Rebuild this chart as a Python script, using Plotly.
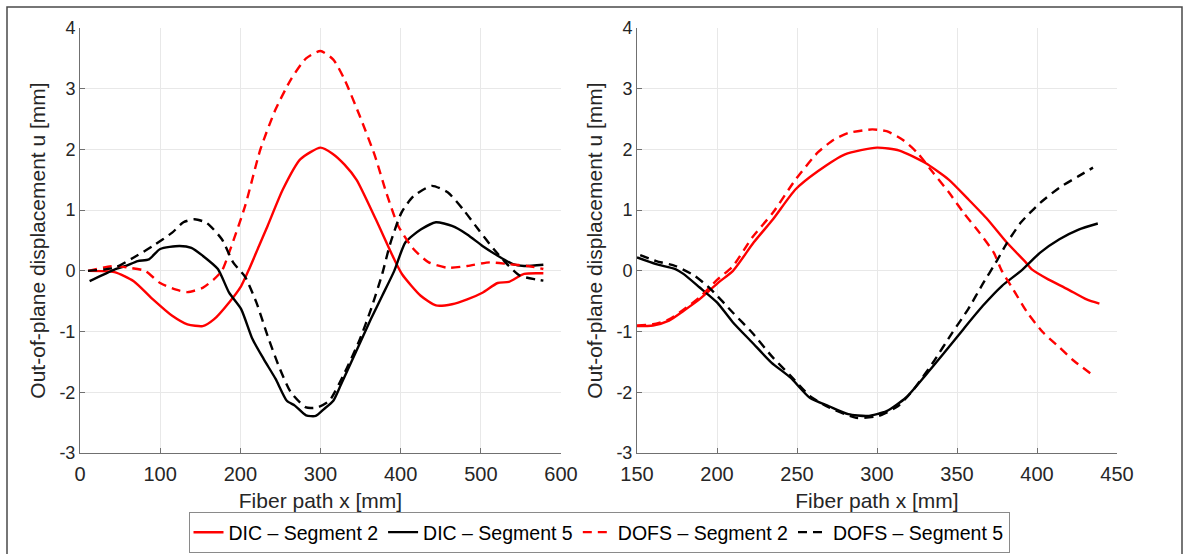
import plotly.graph_objects as go

W, H = 1183, 554

# ---------------- data (left panel) ----------------
L_dic2_x = [10, 43, 67, 91, 115, 134, 153, 167, 186, 201, 210, 223, 234, 253, 275, 300, 315, 330, 345, 369, 392, 402, 425, 444, 464, 483, 502, 521, 535, 554, 578]
L_dic2_y = [0, -0.02, -0.17, -0.47, -0.74, -0.88, -0.91, -0.8, -0.52, -0.25, 0.0, 0.4, 0.74, 1.34, 1.84, 2.03, 1.93, 1.75, 1.5, 0.85, 0.19, -0.06, -0.41, -0.57, -0.55, -0.47, -0.36, -0.2, -0.18, -0.05, -0.04]

L_dic5_x = [12, 43, 57, 72, 86, 100, 124, 139, 153, 172, 186, 201, 215, 229, 244, 258, 268, 282, 294, 304, 316, 325, 344, 363, 377, 392, 406, 425, 444, 464, 483, 502, 521, 540, 554, 578]
L_dic5_y = [-0.17, 0.02, 0.08, 0.16, 0.19, 0.36, 0.41, 0.38, 0.25, 0.03, -0.36, -0.63, -1.12, -1.45, -1.78, -2.14, -2.22, -2.38, -2.39, -2.28, -2.14, -1.89, -1.34, -0.79, -0.41, 0.0, 0.47, 0.68, 0.8, 0.74, 0.6, 0.41, 0.25, 0.11, 0.08, 0.1]

L_dofs2_x = [10, 43, 62, 81, 100, 120, 134, 153, 167, 177, 186, 206, 225, 244, 263, 282, 300, 316, 330, 349, 368, 382, 397, 416, 435, 459, 483, 511, 535, 559, 578]
L_dofs2_y = [0, 0.08, 0.05, 0.0, -0.2, -0.31, -0.35, -0.28, -0.14, 0.0, 0.3, 1.07, 2.0, 2.66, 3.15, 3.5, 3.62, 3.48, 3.15, 2.55, 1.89, 1.29, 0.74, 0.36, 0.14, 0.05, 0.08, 0.14, 0.11, 0.08, 0.03]

L_dofs5_x = [10, 43, 67, 91, 115, 129, 143, 158, 177, 191, 206, 220, 234, 248, 263, 282, 296, 311, 330, 349, 363, 377, 387, 401, 416, 439, 459, 478, 497, 516, 535, 549, 568, 578]
L_dofs5_y = [0, 0.05, 0.22, 0.41, 0.63, 0.8, 0.85, 0.79, 0.52, 0.14, -0.1, -0.52, -1.07, -1.57, -2.0, -2.25, -2.25, -2.14, -1.68, -1.13, -0.63, -0.05, 0.45, 0.96, 1.23, 1.4, 1.29, 1.01, 0.68, 0.36, 0.08, -0.08, -0.14, -0.16]

# ---------------- data (right panel) ----------------
R_dic2_x = [150, 160, 170, 179, 189, 201, 210, 223, 235, 249, 263, 280, 300, 314, 330, 345, 357, 369, 381, 393, 397, 407, 419, 431, 439]
R_dic2_y = [-0.91, -0.9, -0.82, -0.66, -0.47, -0.19, 0.0, 0.47, 0.85, 1.34, 1.64, 1.92, 2.03, 1.98, 1.78, 1.5, 1.18, 0.85, 0.47, 0.14, 0.02, -0.14, -0.3, -0.47, -0.54]

R_dofs2_x = [150, 160, 170, 179, 189, 200, 210, 222, 235, 249, 263, 273, 282, 297, 306, 316, 325, 335, 345, 354, 364, 373, 378, 385, 394, 404, 414, 423, 435]
R_dofs2_y = [-0.9, -0.88, -0.8, -0.64, -0.44, -0.15, 0.08, 0.55, 0.96, 1.5, 1.95, 2.16, 2.27, 2.33, 2.3, 2.16, 1.95, 1.62, 1.29, 0.96, 0.63, 0.3, 0.0, -0.3, -0.69, -1.02, -1.26, -1.48, -1.72]

R_dic5_x = [150, 162, 174, 179, 189, 200, 210, 222, 234, 246, 258, 270, 282, 294, 306, 318, 330, 342, 354, 366, 378, 390, 402, 414, 426, 438]
R_dic5_y = [0.22, 0.11, 0.03, -0.05, -0.27, -0.52, -0.85, -1.18, -1.51, -1.76, -2.09, -2.23, -2.36, -2.39, -2.31, -2.09, -1.73, -1.35, -0.96, -0.58, -0.25, 0.0, 0.3, 0.52, 0.68, 0.78]

R_dofs5_x = [152, 162, 174, 186, 196, 210, 222, 234, 246, 258, 270, 287, 301, 313, 323, 335, 347, 357, 366, 375, 381, 390, 402, 414, 426, 435]
R_dofs5_y = [0.26, 0.16, 0.08, -0.08, -0.3, -0.69, -1.02, -1.4, -1.73, -2.06, -2.25, -2.42, -2.39, -2.23, -1.95, -1.51, -1.02, -0.63, -0.22, 0.17, 0.45, 0.8, 1.12, 1.37, 1.56, 1.7]

# ---------------- ticks / labels ----------------
y_tick_vals = [-3, -2, -1, 0, 1, 2, 3, 4]
y_tick_text = ["-3", "-2", "-1", "0", "1", "2", "3", "4"]
xl_tick_vals = [0, 100, 200, 300, 400, 500, 600]
xr_tick_vals = [150, 200, 250, 300, 350, 400, 450]

names = ["DIC \u2013 Segment 2", "DIC \u2013 Segment 5", "DOFS \u2013 Segment 2", "DOFS \u2013 Segment 5"]
colors = ["#ff0000", "#000000", "#ff0000", "#000000"]
dashes = ["solid", "solid", "9px,6px", "9px,6px"]

left = [(L_dic2_x, L_dic2_y), (L_dic5_x, L_dic5_y), (L_dofs2_x, L_dofs2_y), (L_dofs5_x, L_dofs5_y)]
right = [(R_dic2_x, R_dic2_y), (R_dic5_x, R_dic5_y), (R_dofs2_x, R_dofs2_y), (R_dofs5_x, R_dofs5_y)]

fig = go.Figure()
for i, (xs, ys) in enumerate(left):
    fig.add_trace(go.Scatter(x=xs, y=ys, mode="lines", name=names[i],
                             line=dict(color=colors[i], width=2.4, dash=dashes[i], shape="spline", smoothing=0.6),
                             xaxis="x", yaxis="y", showlegend=True, legendgroup=str(i)))
for i, (xs, ys) in enumerate(right):
    fig.add_trace(go.Scatter(x=xs, y=ys, mode="lines", name=names[i],
                             line=dict(color=colors[i], width=2.4, dash=dashes[i], shape="spline", smoothing=0.6),
                             xaxis="x2", yaxis="y2", showlegend=False, legendgroup=str(i)))

FONT = "Liberation Sans, Arial, sans-serif"
TXT = "#262626"

def px_x(p):
    return p / W

def px_y(p):
    return (H - p) / H

ydom = [px_y(453), px_y(28)]
axis_common = dict(showline=True, linecolor="#707070", linewidth=1, ticks="inside", ticklen=5,
                   tickcolor="#707070", showgrid=True, gridcolor="#e8e8e8", gridwidth=1,
                   zeroline=False, mirror=False, automargin=False)

fig.update_layout(
    width=W, height=H,
    margin=dict(l=0, r=0, t=0, b=0, autoexpand=False),
    paper_bgcolor="white", plot_bgcolor="white",
    font=dict(family=FONT, color=TXT),
    showlegend=True,
    xaxis=dict(domain=[px_x(80), px_x(561)], range=[0, 600], tickvals=xl_tick_vals, anchor="y",
               tickfont=dict(size=20, color=TXT), ticklabelstandoff=3,
               title=dict(text="Fiber path x [mm]", font=dict(size=21, color=TXT), standoff=9),
               **axis_common),
    yaxis=dict(domain=ydom, range=[-3, 4], tickvals=y_tick_vals, ticktext=y_tick_text, anchor="x",
               tickfont=dict(size=18, color=TXT),
               title=dict(text="Out-of-plane displacement u [mm]", font=dict(size=21, color=TXT), standoff=8),
               **axis_common),
    xaxis2=dict(domain=[px_x(637), px_x(1117)], range=[150, 450], tickvals=xr_tick_vals, anchor="y2",
                tickfont=dict(size=20, color=TXT), ticklabelstandoff=3,
                title=dict(text="Fiber path x [mm]", font=dict(size=21, color=TXT), standoff=9),
                **axis_common),
    yaxis2=dict(domain=ydom, range=[-3, 4], tickvals=y_tick_vals, ticktext=y_tick_text, anchor="x2",
                tickfont=dict(size=18, color=TXT),
                title=dict(text="Out-of-plane displacement u [mm]", font=dict(size=21, color=TXT), standoff=8),
                **axis_common),
    legend=dict(orientation="h", x=599 / W, xanchor="center", y=px_y(553), yanchor="bottom",
                bgcolor="white", bordercolor="#8a8a8a", borderwidth=1,
                font=dict(size=19.5, color="#000000"), tracegroupgap=0, itemwidth=30),
    shapes=[dict(type="rect", xref="paper", yref="paper",
                 x0=px_x(7), x1=px_x(1182), y0=-0.1, y1=px_y(7),
                 line=dict(color="#4a4a4a", width=1.5), fillcolor="rgba(0,0,0,0)", layer="below")],
)

fig.write_html("out.html", config={"displayModeBar": False},
               post_script="document.body.style.margin='0px';document.body.style.overflow='hidden';")
